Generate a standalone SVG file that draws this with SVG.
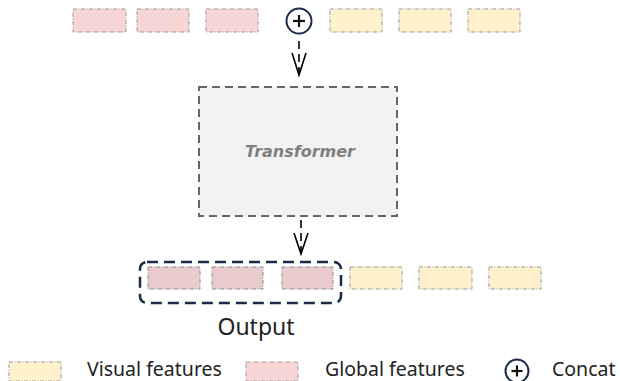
<svg xmlns="http://www.w3.org/2000/svg" width="620" height="381" viewBox="0 0 620 381">
  <defs>
    <style>
      .glob { fill: #f8d6d6; stroke: #9a9a9a; stroke-width: 1; stroke-dasharray: 4 1.5 1 1.5; }
      .glob-out { fill: #eacbce; stroke: #8f8a8c; stroke-width: 1; stroke-dasharray: 4 1.5 1 1.5; }
      .vis { fill: #fff1cc; stroke: #9a9a9a; stroke-width: 1; stroke-dasharray: 4 1.5 1 1.5; }
      .concat { fill: #ffffff; stroke: #1c2b4a; stroke-width: 2; }
      .plus { stroke: #111111; stroke-width: 2.2; }
      .flow { fill: none; stroke: #000000; stroke-width: 1.6; stroke-dasharray: 8 5; }
      .head { fill: none; stroke: #000000; stroke-width: 1.6; }
      .label { font-family: "Noto Sans", "DejaVu Sans", sans-serif; fill: #222222; }
    </style>
  </defs>

  <!-- input tokens: global features, concat, visual features -->
  <g id="input-global">
    <rect class="glob" x="73" y="9" width="53" height="23"/>
    <rect class="glob" x="137" y="9" width="52" height="23"/>
    <rect class="glob" x="206" y="9" width="52" height="23"/>
  </g>
  <g id="concat-op">
    <circle class="concat" cx="299" cy="21" r="12.5"/>
    <line class="plus" x1="293" y1="21" x2="305" y2="21"/>
    <line class="plus" x1="299" y1="15" x2="299" y2="27"/>
  </g>
  <g id="input-visual">
    <rect class="vis" x="330" y="9" width="52" height="23"/>
    <rect class="vis" x="399" y="9" width="52" height="23"/>
    <rect class="vis" x="468" y="9" width="52" height="23"/>
  </g>

  <!-- transformer block -->
  <g id="transformer">
    <rect x="199" y="87" width="198" height="129" fill="#f2f2f2" stroke="#666666" stroke-width="2" stroke-dasharray="8 5"/>
    <text x="300" y="157" text-anchor="middle" font-family="'DejaVu Sans', sans-serif" font-style="italic" font-weight="bold" font-size="16" fill="#7f7f7f">Transformer</text>
  </g>

  <!-- output tokens -->
  <g id="output">
    <rect x="140" y="262" width="201" height="41" rx="7" fill="none" stroke="#1c2b4a" stroke-width="2.5" stroke-dasharray="11 6"/>
    <rect class="glob-out" x="148" y="267" width="52" height="22"/>
    <rect class="glob-out" x="212" y="267" width="51" height="22"/>
    <rect class="glob-out" x="282" y="267" width="51" height="22"/>
    <text class="label" x="256" y="335" text-anchor="middle" font-size="23">Output</text>
  </g>
  <g id="output-visual">
    <rect class="vis" x="350" y="267" width="52" height="22"/>
    <rect class="vis" x="419" y="267" width="53" height="22"/>
    <rect class="vis" x="489" y="267" width="52" height="22"/>
  </g>

  <!-- connectors -->
  <g id="connectors">
    <line class="flow" x1="299" y1="41" x2="299" y2="74"/>
    <polyline class="head" points="292,53 299,75 306,53"/>
    <line class="flow" x1="301" y1="220" x2="301" y2="253"/>
    <polyline class="head" points="294,233 301,254 308,233"/>
  </g>

  <!-- legend -->
  <g id="legend">
    <rect class="vis" x="9" y="362" width="52" height="19"/>
    <text class="label" x="87" y="375.5" font-size="19.5">Visual features</text>
    <rect class="glob" x="246" y="362" width="52" height="19"/>
    <text class="label" x="325" y="375.5" font-size="19.5">Global features</text>
    <circle class="concat" cx="517" cy="371" r="11.5"/>
    <line class="plus" x1="511.5" y1="371" x2="522.5" y2="371"/>
    <line class="plus" x1="517" y1="365.5" x2="517" y2="376.5"/>
    <text class="label" x="552" y="375.5" font-size="19.5">Concat</text>
  </g>
</svg>
